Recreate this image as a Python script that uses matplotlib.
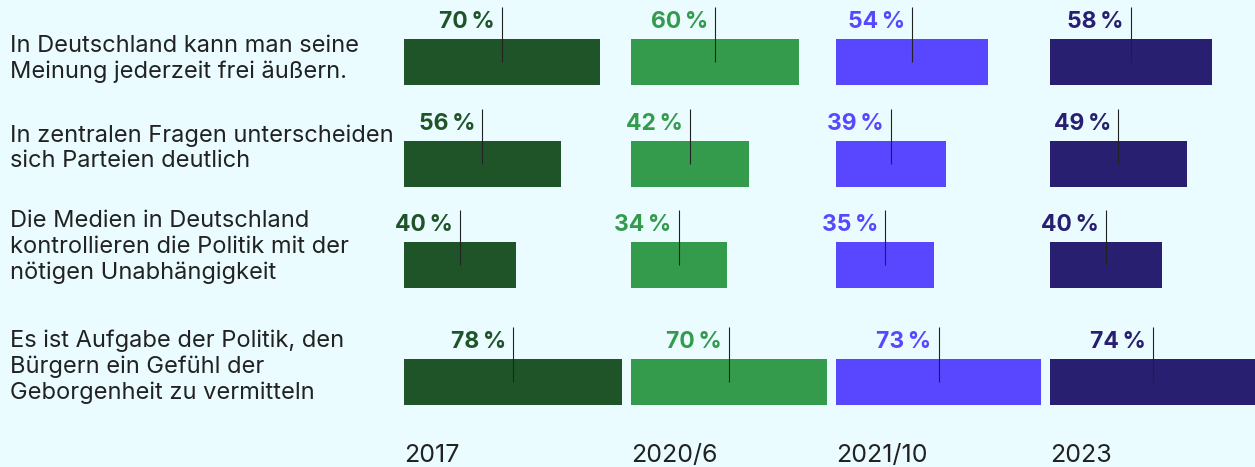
import matplotlib.pyplot as plt

# data
statements = [
    "In Deutschland kann man seine\nMeinung jederzeit frei äußern.",
    "In zentralen Fragen unterscheiden\nsich Parteien deutlich",
    "Die Medien in Deutschland\nkontrollieren die Politik mit der\nnötigen Unabhängigkeit",
    "Es ist Aufgabe der Politik, den\nBürgern ein Gefühl der\nGeborgenheit zu vermitteln",
]
years = ["2017", "2020/6", "2021/10", "2023"]
v2017 = [70, 56, 40, 78]
v2020 = [60, 42, 34, 70]
v2021 = [54, 39, 35, 73]
v2023 = [58, 49, 40, 74]
colors = ["#1E5428", "#359B4C", "#5847FF", "#281F70"]

# layout (pixels)
W, H = 1255, 467
bg = "#EAFCFF"
px_per_pct = 2.8
left0 = 404
gap = 9
bar_tops = [39, 141, 242, 359]
bar_h = 46
label_centers = [59, 148, 247, 367]

plt.rcParams['font.family'] = ['Inter', 'DejaVu Sans']

fig = plt.figure(figsize=(W / 100, H / 100), dpi=100)
fig.patch.set_facecolor(bg)

for i, s in enumerate(statements):
    fig.text(10 / W, 1 - label_centers[i] / H, s, ha='left', va='center',
             fontsize=17, color='#222222', linespacing=1.2)

left = left0
for year, vals, c in zip(years, [v2017, v2020, v2021, v2023], colors):
    width_px = max(vals) * px_per_pct
    ax = fig.add_axes([left / W, 0, width_px / W, 1])
    ax.set_xlim(0, max(vals))
    ax.set_ylim(H, 0)
    ax.axis('off')
    for j, v in enumerate(vals):
        top = bar_tops[j]
        mid = top + bar_h / 2
        ax.barh(mid, v, height=bar_h, color=c, left=0)
        ax.plot([v / 2, v / 2], [top - 32, mid], color='#222222', lw=0.8,
                solid_capstyle='butt')
        ax.text(v / 2 - 2.6, top - 11, f"{v}\u2009%", ha='right', va='baseline',
                fontsize=16.5, fontweight='bold', color=c)
    fig.text(left / W, 1 - 462 / H, year, ha='left', va='baseline',
             fontsize=18, color='#222222')
    left += width_px + gap

fig.savefig("out.png", dpi=100, facecolor=bg)
